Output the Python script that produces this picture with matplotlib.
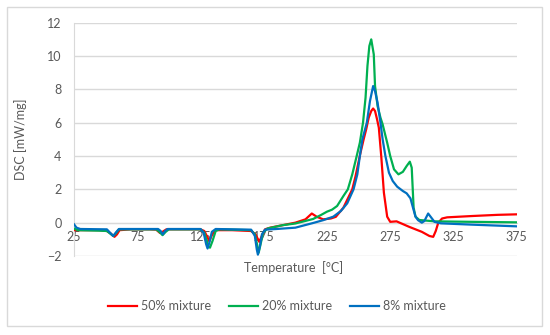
import matplotlib
matplotlib.use("Agg")
import matplotlib.pyplot as plt
from matplotlib.patches import Rectangle

plt.rcParams['font.family'] = ['Lato', 'DejaVu Sans']

# ---- data ----
x_50 = [25, 30, 45, 51, 54, 57, 59, 61, 70, 85, 90, 93, 95, 98, 110, 125, 128, 130, 132, 134, 137,
        150, 165, 168.5, 171.5, 173.5, 176, 180, 190, 200, 208, 213, 217, 222, 228, 232, 238,
        242.2, 245, 247.5, 251.4, 254, 256, 258, 260, 261.5, 263, 264.6, 266, 268, 270, 272.6,
        275, 280, 290, 300, 306, 309, 311, 313, 316, 320, 340, 360, 375]
y_50 = [-0.45, -0.45, -0.45, -0.5, -0.65, -0.85, -0.7, -0.45, -0.4, -0.4, -0.42, -0.62, -0.55,
        -0.4, -0.4, -0.4, -0.5, -0.8, -1.12, -0.75, -0.45, -0.45, -0.5, -0.7, -1.15, -0.8, -0.4,
        -0.3, -0.15, 0.0, 0.2, 0.55, 0.35, 0.2, 0.25, 0.35, 0.9, 1.56, 2.0, 2.76, 4.16, 5.0, 5.6,
        6.3, 6.7, 6.85, 6.7, 6.2, 5.7, 3.9, 1.8, 0.36, 0.05, 0.08, -0.25, -0.55, -0.8, -0.85,
        -0.5, 0.0, 0.25, 0.32, 0.4, 0.47, 0.5]

x_20 = [25, 28, 45, 51, 53.5, 56, 58, 60.5, 90, 92.5, 95, 97.5, 100, 125, 128, 130, 131, 132.5,
        134.5, 137, 140, 165, 168, 170, 171, 172.5, 174.5, 178, 190, 200, 214, 220, 225, 229,
        233, 238, 241.5, 245, 248.5, 251, 253.5, 255.5, 257, 258.5, 260, 262, 263, 265, 267.3,
        269, 272.6, 275, 278, 281.5, 285, 288, 290.5, 292, 293.5, 295, 298, 310, 340, 375]
y_20 = [-0.35, -0.45, -0.48, -0.5, -0.65, -0.8, -0.65, -0.4, -0.4, -0.55, -0.75, -0.55, -0.4,
        -0.4, -0.6, -1.1, -1.4, -1.5, -1.1, -0.5, -0.4, -0.45, -0.7, -1.4, -1.8, -1.3, -0.6,
        -0.35, -0.15, -0.05, 0.22, 0.45, 0.66, 0.78, 1.0, 1.6, 2.0, 2.9, 4.0, 4.8, 6.0, 7.5, 9.4,
        10.6, 11.0, 10.1, 8.2, 7.0, 6.3, 5.9, 4.8, 4.0, 3.2, 2.9, 3.05, 3.4, 3.66, 3.3, 0.9,
        0.36, 0.16, 0.08, 0.05, 0.02]

x_8 = [25, 27, 30, 51, 53.5, 56, 58, 60.5, 91.5, 93.5, 95.2, 97, 99, 125, 127.5, 129.5, 130.6,
       132, 134, 137, 165, 168, 169.5, 170.4, 172, 173.6, 176, 185, 200, 214, 222, 230, 236, 241,
       246, 249, 251, 253, 256.5, 259, 261.5, 263, 265, 267.3, 269, 271.2, 274, 277, 280.5, 285,
       288, 291, 293, 295, 297, 300, 302, 305, 307, 310, 315, 340, 375]
y_8 = [-0.1, -0.3, -0.38, -0.4, -0.6, -0.8, -0.6, -0.38, -0.38, -0.5, -0.7, -0.5, -0.38, -0.38,
       -0.6, -1.3, -1.55, -1.2, -0.55, -0.38, -0.42, -0.8, -1.6, -1.92, -1.4, -0.7, -0.42,
       -0.38, -0.3, -0.02, 0.15, 0.36, 0.7, 1.16, 2.0, 2.9, 4.0, 5.0, 6.0, 7.3, 8.2, 7.9, 7.2,
       6.0, 5.0, 4.0, 3.0, 2.5, 2.16, 1.9, 1.76, 1.46, 0.9, 0.36, 0.15, 0.0, 0.1, 0.55, 0.35,
       0.05, -0.04, -0.12, -0.22]

series_labels = ['50% mixture', '20% mixture', '8% mixture']
colors = ['#FF0000', '#00B050', '#0070C0']
x_ticks = [25, 75, 125, 175, 225, 275, 325, 375]
y_ticks = [-2, 0, 2, 4, 6, 8, 10, 12]

W, H = 550, 335
fig = plt.figure(figsize=(W / 100, H / 100), dpi=100)
ax = fig.add_axes([74 / W, 1 - 256 / H, (516.7 - 74) / W, (256 - 22.7) / H])

grid_c = '#D9D9D9'
txt_c = '#595959'

for xs, ys, lab, c in zip([x_50, x_20, x_8], [y_50, y_20, y_8], series_labels, colors):
    ax.plot(xs, ys, color=c, lw=1.6, label=lab, solid_joinstyle='round', zorder=3)

ax.set_xlim(25, 375)
ax.set_ylim(-2, 12)
ax.set_xticks(x_ticks)
ax.set_yticks(y_ticks)
ax.yaxis.grid(True, color=grid_c, lw=1)
ax.set_axisbelow(True)

for s in ['top', 'right']:
    ax.spines[s].set_visible(False)
ax.spines['left'].set_color(grid_c)
ax.spines['bottom'].set_color(grid_c)
ax.spines['bottom'].set_position(('data', 0))
ax.tick_params(axis='x', length=0, pad=6, labelsize=9, labelcolor=txt_c)
ax.tick_params(axis='y', length=0, pad=9, labelsize=9, labelcolor=txt_c)

ax.set_ylabel('DSC [mW/mg]', fontsize=9, color=txt_c)
ax.yaxis.set_label_coords(-(74 - 27) / (516.7 - 74), 0.5)
fig.text(294 / W, 1 - 268 / H, 'Temperature  [°C]', fontsize=9, color=txt_c,
         ha='center', va='center')

handles, labels = ax.get_legend_handles_labels()
fig.legend(handles, labels, loc='center', bbox_to_anchor=(277 / W, 1 - 306 / H), ncol=3,
           frameon=False, fontsize=9, labelcolor=txt_c, handlelength=2.3,
           handletextpad=0.35, columnspacing=1.4)

fig.patches.append(Rectangle((7 / W, 1 - 326 / H), (542 - 7) / W, (326 - 7) / H,
                             transform=fig.transFigure, fill=False, edgecolor=grid_c, lw=1))

fig.savefig('out.png', dpi=100)
